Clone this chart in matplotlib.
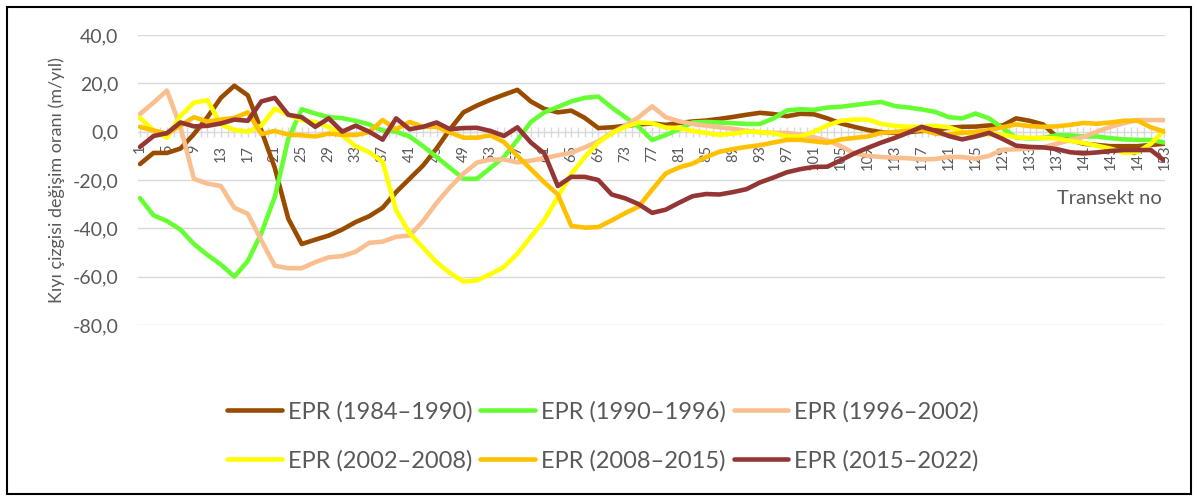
import matplotlib
matplotlib.use("Agg")
import matplotlib.pyplot as plt
from matplotlib.patches import Rectangle
import numpy as np

# transect numbers (every second transect)
transects = list(range(1, 154, 2))

epr_1984_1990 = [-13.4, -8.8, -8.8, -7, -1, 6, 14, 19, 15, 0.5,
                 -15, -36, -46.5, -44.7, -43, -40.5, -37.4, -35, -31.5, -25,
                 -19.5, -14, -7, 1, 8, 10.8, 13.2, 15.3, 17.3, 12.5,
                 9.4, 8, 8.7, 5.7, 1.5, 1.8, 2.4, 3, 3.4, 2.8,
                 3.6, 4.2, 4.6, 5.3, 6.1, 7, 7.8, 7.3, 6.4, 7.4,
                 7.2, 5.5, 3.4, 2, 0.7, -0.2, -0.5, -0.2, 0.3, 0.8,
                 1.6, 2, 2.1, 2.6, 2.5, 5.5, 4.5, 3, -2, -3.5,
                 -5, -5.5, -6, -6, -6, -5.5, -5]

epr_1990_1996 = [-27.5, -34.6, -37, -40.5, -46.5, -51, -55, -60, -53.5, -42,
                 -27, -3, 9.3, 7.5, 6, 5.6, 4.5, 3, 0.5, 0,
                 -2, -6, -10.5, -15, -19.5, -19.5, -15, -10.5, -3.5, 4,
                 8, 10.2, 12.5, 14, 14.5, 10, 6, 2, -3.5, -1.4,
                 1, 3.8, 4, 3.8, 3.5, 3.2, 3.2, 5.5, 8.8, 9.3,
                 9, 10, 10.3, 11, 11.7, 12.3, 10.6, 10, 9.2, 8.2,
                 6, 5.5, 7.5, 5.5, 1.5, -2.5, -2.8, -2.6, -1.5, -1.5,
                 -2, -2, -2.7, -3.2, -3.4, -3.4, -4.5]

epr_1996_2002 = [7.3, 12, 17, 2, -19.5, -21.5, -22.5, -31.5, -34, -45,
                 -55.5, -56.5, -56.5, -54, -52, -51.5, -49.7, -46, -45.5, -43.5,
                 -43, -37, -29.5, -23, -17.3, -12.8, -11.5, -11.5, -12.7, -12,
                 -11, -9.8, -8.7, -6.5, -4, -0.5, 2.5, 6, 10.5, 6,
                 4.3, 3.2, 2.5, 1.8, 1.2, 0.3, -0.2, -0.5, -0.5, -1.2,
                 -2.4, -3.6, -6, -9, -10, -10.5, -10.8, -11, -11.5, -11.3,
                 -10.5, -10.5, -11.2, -10, -7.5, -7.3, -7, -6.5, -5, -3.5,
                 -2.2, 0, 2, 3.5, 4.8, 4.8, 4.8]

epr_2002_2008 = [5.7, 0.5, -2.5, 6.5, 12, 13, 3, 0.7, 0, 2.5,
                 9.5, 7, 4.8, 4, 2, -1.5, -6, -8.5, -12.5, -32.5,
                 -42, -48, -54, -58.5, -62, -61.5, -59, -56, -50.5, -43.5,
                 -36.5, -27, -17.5, -10.5, -4.5, -0.7, 2, 3.8, 3.5, 1.7,
                 1.5, 0.3, -0.5, -1.3, -0.8, 0, -0.2, -0.7, -2, -2,
                 0, 2.6, 4.5, 5, 5, 3.2, 2.4, 2, 2, 2.5,
                 1.8, 0, -1.5, -1, -1.3, -2.3, -2.6, -2.6, -2.8, -3.8,
                 -4.7, -5.8, -7, -8.7, -8.5, -5, 0.5]

epr_2008_2015 = [2, 0.5, -0.8, 2.5, 6, 4.2, 5, 5.7, 8, -1,
                 0.3, -1.2, -1.5, -2, -0.8, -1.3, -1.4, -0.2, 4.8, 1,
                 4, 2, 2, -0.3, -2.5, -2.5, -1.5, -4.3, -10, -15.5,
                 -21, -26, -39, -39.7, -39.5, -36.7, -33.7, -31, -24, -17.3,
                 -14.8, -13.2, -10.5, -8.3, -7.2, -6.3, -5.6, -4.5, -3.4, -3.4,
                 -4, -4.6, -3.2, -2.6, -2, -0.5, -0.1, 0.3, 0.7, -0.8,
                 -1.1, -0.5, -0.1, 0.6, 1.8, 3, 2.3, 2, 2.2, 2.8,
                 3.6, 3.3, 3.8, 4.5, 4.6, 1.8, 0]

epr_2015_2022 = [-6.3, -1.8, -0.6, 3.8, 2.2, 2.4, 3.4, 5, 4.5, 12.5,
                 14, 7, 6, 2, 5.5, 0, 2.5, 0, -3.3, 5.5,
                 1, 2, 3.8, 1, 1.5, 1.6, 0.3, -1.8, 1.8, -4.5,
                 -9, -22.5, -18.7, -18.7, -20, -26, -27.6, -30, -33.6, -32.3,
                 -29.4, -26.7, -25.8, -26, -25, -23.8, -21, -19, -16.8, -15.5,
                 -14.6, -14.5, -11.8, -9, -6.7, -4.5, -2.6, -0.4, 2, 0.4,
                 -1.8, -3.2, -2, -0.5, -3, -5.8, -6.3, -6.5, -7.2, -8.5,
                 -9, -8.6, -8, -7.6, -7.6, -7.6, -12]

series_labels = ["EPR (1984–1990)", "EPR (1990–1996)", "EPR (1996–2002)",
                 "EPR (2002–2008)", "EPR (2008–2015)", "EPR (2015–2022)"]
series_colors = ["#994C00", "#66FF33", "#FABF8F", "#FFFF00", "#FFC000", "#943634"]
all_series = [epr_1984_1990, epr_1990_1996, epr_1996_2002,
              epr_2002_2008, epr_2008_2015, epr_2015_2022]

y_ticks = [-80, -60, -40, -20, 0, 20, 40]

plt.rcParams['font.family'] = ['Lato', 'DejaVu Sans']
grey = '#595959'

W, H = 1197, 498
fig = plt.figure(figsize=(W / 100, H / 100), dpi=100)
ax = fig.add_axes([138 / W, 1 - 325 / H, 1027 / W, 290 / H])

lines = []
for vals, lab, col in zip(all_series, series_labels, series_colors):
    ln, = ax.plot(transects, vals, color=col, lw=3.3, label=lab, zorder=3,
                  solid_joinstyle='round', solid_capstyle='round')
    lines.append(ln)

ax.set_xlim(0.7, 153.1)
ax.set_ylim(-80, 40)
ax.set_yticks(y_ticks)
ax.set_yticklabels([f"{v:.1f}".replace('.', ',') for v in y_ticks])
ax.grid(axis='y', color='#D9D9D9', lw=1)
ax.set_axisbelow(True)
for s in ['top', 'right', 'left']:
    ax.spines[s].set_visible(False)
ax.spines['bottom'].set_position(('data', 0))
ax.spines['bottom'].set_color('#D9D9D9')

all_t = list(range(1, 154))
ax.set_xticks(all_t)
ax.set_xticklabels([str(t) if (t - 1) % 4 == 0 else '' for t in all_t], rotation=90)
ax.tick_params(axis='x', direction='inout', length=7, width=1, color='#D9D9D9',
               labelcolor=grey, labelsize=10.5, pad=6)
ax.tick_params(axis='y', length=0, labelcolor=grey, labelsize=14, pad=14)

fig.text(57 / W, 1 - 180 / H, 'Kıyı çizgisi değişim oranı (m/yıl)', rotation=90,
         ha='center', va='center', fontsize=13, color=grey)
fig.text(1162 / W, 1 - 199 / H, 'Transekt no', ha='right', va='center',
         fontsize=14.5, color=grey)

order = [0, 3, 1, 4, 2, 5]
fig.legend([lines[i] for i in order], [series_labels[i] for i in order],
           ncol=3, loc='center', bbox_to_anchor=(603 / W, 1 - 436 / H),
           frameon=False, fontsize=17, labelcolor=grey, handlelength=2.3,
           handletextpad=0.25, columnspacing=0.35, labelspacing=1.15)

fig.patches.append(Rectangle((7 / W, 1 - 494 / H), 1184 / W, 487 / H,
                             transform=fig.transFigure, fill=False,
                             edgecolor='black', lw=1.5))

fig.savefig('out.png', dpi=100)
